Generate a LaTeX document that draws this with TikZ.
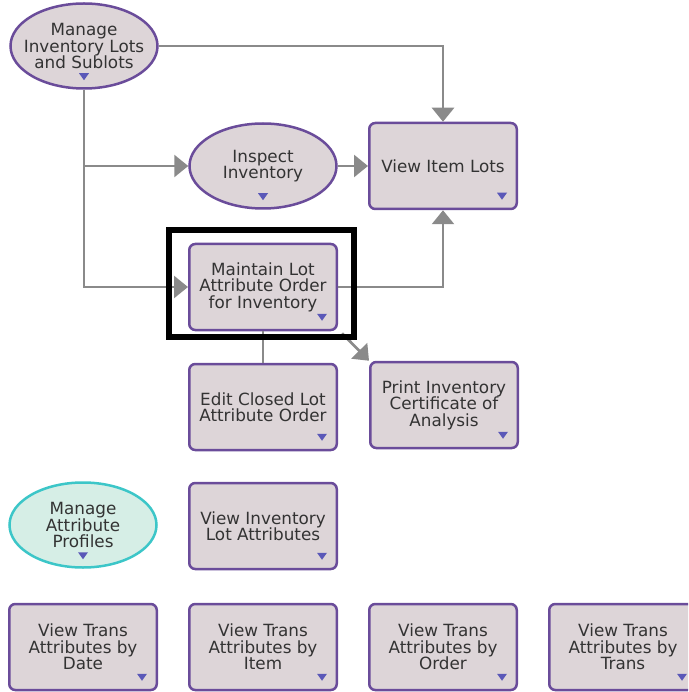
\documentclass[tikz,border=0pt]{standalone}
\usepackage{fontspec}
\setmainfont{DejaVu Sans}
\usetikzlibrary{arrows.meta,calc,shapes.geometric}
\definecolor{boxfill}{HTML}{DDD5D8}
\definecolor{boxline}{HTML}{6A4C9A}
\definecolor{tealline}{HTML}{3CC6C8}
\definecolor{tealfill}{HTML}{D6EEE6}
\definecolor{conn}{HTML}{8A8A8A}
\definecolor{mark}{HTML}{5A58B8}
\definecolor{txt}{HTML}{333333}
\tikzset{
  lbl/.style={text=txt, align=center, font=\fontsize{16.8}{16.5}\selectfont, inner sep=0pt},
  base/.style={lbl, draw=boxline, line width=2.5pt, fill=boxfill},
  boxn/.style={base, rectangle, rounded corners=6pt, minimum width=147.5pt, minimum height=86pt},
  elln/.style={base, ellipse, minimum width=147pt, minimum height=85pt},
  tealn/.style={elln, draw=tealline, fill=tealfill},
  conline/.style={draw=conn, line width=2.7pt},
  arr/.style={conline, -{Triangle[length=14pt,width=22pt]}},
  mk/.style={fill=mark},
  hl/.style={draw=black, line width=6pt}
}
\begin{document}
\begin{tikzpicture}[x=1pt,y=-1pt]
\useasboundingbox (0,0) rectangle (688,692);
\clip (0,0) rectangle (688,692);
% nodes
\node[elln] (mil) at (84,46) {};
\node[lbl] (milt) at (mil) {Manage\\Inventory Lots\\and Sublots};
\node[elln] (insp) at (263,166) {};
\node[lbl] (inspt) at (insp) {Inspect\\Inventory};
\node[boxn] (vil) at (443,166) {View Item Lots};
\node[boxn] (mlao) at (263,287) {Maintain Lot\\Attribute Order\\for Inventory};
\node[boxn] (ecl) at (263,407) {Edit Closed Lot\\Attribute Order};
\node[boxn] (pic) at (444,405) {Print Inventory\\Certificate of\\Analysis};
\node[tealn] (map) at (83,525) {};
\node[lbl] (mapt) at (map) {Manage\\Attribute\\Profiles};
\node[boxn] (vila) at (263,526) {View Inventory\\Lot Attributes};
\node[boxn] (b1) at (83,647) {View Trans\\Attributes by\\Date};
\node[boxn] (b2) at (263,647) {View Trans\\Attributes by\\Item};
\node[boxn] (b3) at (443,647) {View Trans\\Attributes by\\Order};
\node[boxn] (b4) at (623,647) {View Trans\\Attributes by\\Trans};
% markers
\foreach \n in {vil,mlao,ecl,pic,vila,b1,b2,b3,b4}
  \fill[mk] ($(\n.south east)+(-16,-14)$) ++(-5,-3.5) -- ++(10,0) -- ++(-5,7) -- cycle;
\foreach \n in {mil,insp,map}
  \fill[mk] ($(\n.south)+(0,-13)$) ++(-5,-3.5) -- ++(10,0) -- ++(-5,7) -- cycle;
% connectors
\draw[arr] (mil.east) -| (vil.north);
\draw[arr] (mil.south) |- (mlao.west);
\draw[arr] (mil.south) |- (insp.west);
\draw[arr] (insp.east) -- (vil.west);
\draw[arr] (mlao.east) -| (vil.south);
\draw[conline] (mlao.south) -- (ecl.north);
\draw[arr] ($(mlao.south east)+(4,2)$) -- (pic.north west);
% highlight
\draw[hl] (168.5,230.5) rectangle (353.5,336.5);
\end{tikzpicture}
\end{document}
